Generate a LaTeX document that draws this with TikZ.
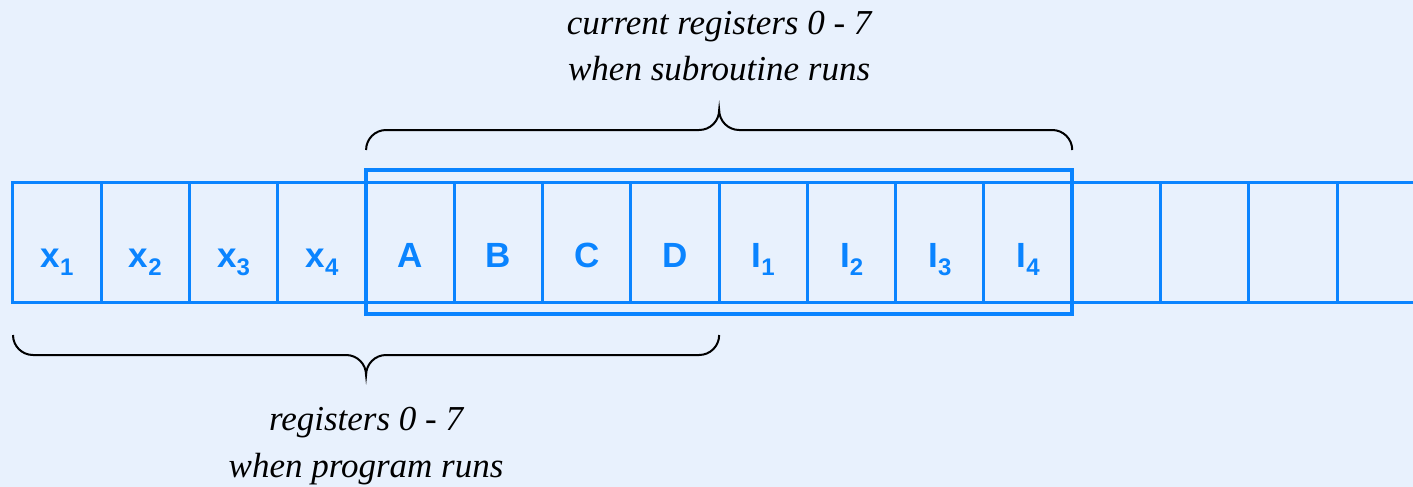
\documentclass[tikz,border=0pt]{standalone}
\usepackage{fontspec}
\setmainfont{Liberation Serif}
\newfontfamily\regfont{Liberation Sans}
\usetikzlibrary{positioning, fit}
\definecolor{regblue}{RGB}{10,132,255}
\definecolor{paleblue}{RGB}{232,241,253}
\newcommand{\regsub}[1]{\raisebox{-8pt}{\fontsize{24}{24}\selectfont #1}}

\begin{document}
\begin{tikzpicture}[x=1pt, y=1pt,
    reg/.style={draw=regblue, line width=3pt, minimum width=88.27pt, minimum height=120pt,
      inner sep=0pt, outer sep=0pt, text height=50pt, text depth=0pt, text=regblue,
      font=\regfont\bfseries\fontsize{35}{42}\selectfont},
    window/.style={draw=regblue, line width=4pt, inner xsep=0pt, inner ysep=12pt},
    brace/.style={draw=black, line width=2pt},
    note/.style={align=center, anchor=base, font=\itshape\fontsize{35}{47}\selectfont}]
  \fill[paleblue] (0,0) rectangle (1413,-487);
  \useasboundingbox (0,0) rectangle (1413,-487);
  \clip (0,0) rectangle (1413,-487);

  % register row
  \node[reg] (c1) at (57.13,-242) {x\regsub{1}};
  \node[reg, right=0pt of c1] (c2) {x\regsub{2}};
  \node[reg, right=0pt of c2] (c3) {x\regsub{3}};
  \node[reg, right=0pt of c3] (c4) {x\regsub{4}};
  \node[reg, right=0pt of c4] (c5) {A};
  \node[reg, right=0pt of c5] (c6) {B};
  \node[reg, right=0pt of c6] (c7) {C};
  \node[reg, right=0pt of c7] (c8) {D};
  \node[reg, right=0pt of c8] (c9) {I\regsub{1}};
  \node[reg, right=0pt of c9] (c10) {I\regsub{2}};
  \node[reg, right=0pt of c10] (c11) {I\regsub{3}};
  \node[reg, right=0pt of c11] (c12) {I\regsub{4}};
  \node[reg, right=0pt of c12] (c13) {};
  \node[reg, right=0pt of c13] (c14) {};
  \node[reg, right=0pt of c14] (c15) {};
  \node[reg, right=0pt of c15] (c16) {};

  % subroutine window
  \node[window, fit=(c5)(c12)] (win) {};

  % braces
  \coordinate (tl) at ([yshift=32pt]c5.north west);
  \coordinate (tr) at ([yshift=32pt]c12.north east);
  \coordinate (tm) at ([yshift=32pt]c9.north west);
  \draw[brace] (tl) arc[start angle=180, end angle=90, radius=20]
    -- ([xshift=-20pt, yshift=20pt]tm) arc[start angle=270, end angle=360, radius=20]
    arc[start angle=180, end angle=270, radius=20]
    -- ([xshift=-20pt, yshift=20pt]tr) arc[start angle=90, end angle=0, radius=20];

  \coordinate (bl) at ([yshift=-33pt]c1.south west);
  \coordinate (br) at ([yshift=-33pt]c8.south east);
  \coordinate (bm) at ([yshift=-33pt]c5.south west);
  \draw[brace] (bl) arc[start angle=180, end angle=270, radius=20]
    -- ([xshift=-20pt, yshift=-20pt]bm) arc[start angle=90, end angle=0, radius=20]
    arc[start angle=180, end angle=90, radius=20]
    -- ([xshift=-20pt, yshift=-20pt]br) arc[start angle=270, end angle=360, radius=20];

  % notes
  \node[note] (subnote) at (tm |- 0,-81) {current registers 0 - 7\\when subroutine runs};
  \node[note] (prognote) at (bm |- 0,-477) {registers 0 - 7\\when program runs};
\end{tikzpicture}
\end{document}
